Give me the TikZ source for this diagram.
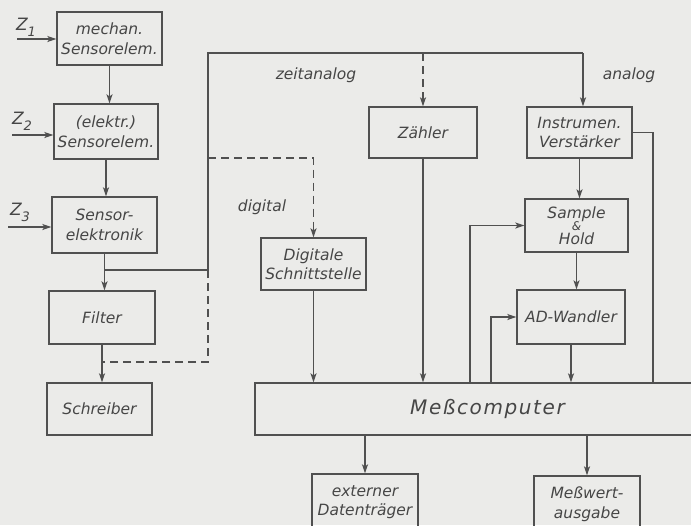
\documentclass[tikz,border=0pt]{standalone}
\usepackage{fontspec}
\usetikzlibrary{arrows.meta}
\newfontfamily\lbl{DejaVu Sans Oblique}
\definecolor{bg}{RGB}{235,235,233}
\definecolor{lc}{RGB}{80,80,80}
\definecolor{tc}{RGB}{70,70,70}
\tikzset{
  ln/.style={draw=lc, line width=1.25pt},
  box/.style={ln, inner sep=0pt, text=tc, font=\lbl\fontsize{15.5}{19.5}\selectfont, align=center},
  arr/.style={ln, -{Stealth[length=9pt,width=6pt,inset=2pt]}},
  dsh/.style={dash pattern=on 8pt off 5pt},
  lab/.style={text=tc, font=\lbl\fontsize{15.5}{19}\selectfont, inner sep=0pt},
}
\newcommand{\zlab}[1]{Z\raisebox{-6pt}{\fontsize{13}{13}\selectfont #1}}
\begin{document}
\begin{tikzpicture}[x=1pt,y=-1pt]
\path[use as bounding box, fill=bg] (0,0) rectangle (691,525);
\clip (0,0) rectangle (691,525);
% boxes
\node[box, minimum width=105pt, minimum height=53pt] (m1) at (109.5,38.5) {mechan.\\Sensorelem.};
\node[box, minimum width=104pt, minimum height=55pt] (e2) at (106,131.5) {(elektr.)\\Sensorelem.};
\node[box, minimum width=105pt, minimum height=56pt] (se) at (104.5,225) {Sensor-\\elektronik};
\node[box, minimum width=106pt, minimum height=53pt] (fi) at (102,317.5) {Filter};
\node[box, minimum width=105pt, minimum height=52pt] (sc) at (99.5,409) {Schreiber};
\node[box, minimum width=105pt, minimum height=52pt] (ds) at (313.5,264) {Digitale\\Schnittstelle};
\node[box, minimum width=108pt, minimum height=51pt] (za) at (423,132.5) {Zähler};
\node[box, minimum width=105pt, minimum height=51pt] (iv) at (579.5,132.5) {Instrumen.\\Verstärker};
\node[box, minimum width=103pt, minimum height=53pt] (sh) at (576.5,225.5) {Sample\\[-7pt]{\fontsize{12}{12}\selectfont\&}\\[-6pt]Hold};
\node[box, minimum width=108pt, minimum height=54pt] (ad) at (571,317) {AD-Wandler};
\node[box, minimum width=465pt, minimum height=52pt, font=\lbl\fontsize{20}{22}\selectfont\addfontfeature{LetterSpace=8}] (mc) at (487.5,409) {Meßcomputer};
\node[box, minimum width=106pt, minimum height=56pt] (ex) at (365,502) {externer\\Datenträger};
\node[box, minimum width=106pt, minimum height=56pt] (mw) at (587,504) {Meßwert-\\ausgabe};
% labels
\node[lab] (lz) at (316,75) {zeitanalog};
\node[lab] (la) at (629,75) {analog};
\node[lab] (ld) at (262,207) {digital};
\node[lab, font=\lbl\fontsize{17}{19}\selectfont] (z1) at (26,27) {\zlab{1}};
\node[lab, font=\lbl\fontsize{17}{19}\selectfont] (z2) at (22,121) {\zlab{2}};
\node[lab, font=\lbl\fontsize{17}{19}\selectfont] (z3) at (20,212) {\zlab{3}};
% input arrows
\coordinate (i1) at (17,39);
\coordinate (i2) at (12,135);
\coordinate (i3) at (8,227);
\draw[arr] (i1) -- (i1 -| m1.west);
\draw[arr] (i2) -- (i2 -| e2.west);
\draw[arr] (i3) -- (i3 -| se.west);
% left chain
\draw[arr] (m1.south) -- (m1.south |- e2.north);
\draw[arr] (e2.south) -- (e2.south |- se.north);
\draw[arr] (se.south) -- (se.south |- fi.north);
\draw[arr] (fi.south) -- (fi.south |- sc.north);
% branch
\coordinate (b1) at (104.5,270);
\coordinate (v1) at (208,270);
\coordinate (tl) at (208,53);
\coordinate (tr) at (583,53);
\coordinate (dg) at (208,158);
\coordinate (db) at (208,362);
\coordinate (fb) at (102,362);
\draw[ln] (b1) -- (v1) -- (tl) -- (tr);
\draw[arr] (tr) -- (tr |- iv.north);
\draw[ln, dsh] (v1) -- (db) -- (fb);
\draw[arr, dsh] (dg) -| (ds.north);
\draw[arr, dsh] (za.north |- tl) -- (za.north);
% to Messcomputer
\draw[arr] (ds.south) -- (ds.south |- mc.north);
\draw[arr] (za.south) -- (za.south |- mc.north);
\draw[arr] (iv.south) -- (iv.south |- sh.north);
\draw[arr] (sh.south) -- (sh.south |- ad.north);
\draw[arr] (ad.south) -- (ad.south |- mc.north);
\coordinate (rv) at (653,132.5);
\draw[ln] (iv.east) -- (rv) -- (rv |- mc.north);
% feedback
\coordinate (f1) at (470,383);
\coordinate (f2) at (491,383);
\draw[arr] (f1) |- (sh.west);
\draw[arr] (f2) |- (ad.west);
% outputs
\draw[arr] (ex.north |- mc.south) -- (ex.north);
\draw[arr] (mw.north |- mc.south) -- (mw.north);
\end{tikzpicture}
\end{document}
